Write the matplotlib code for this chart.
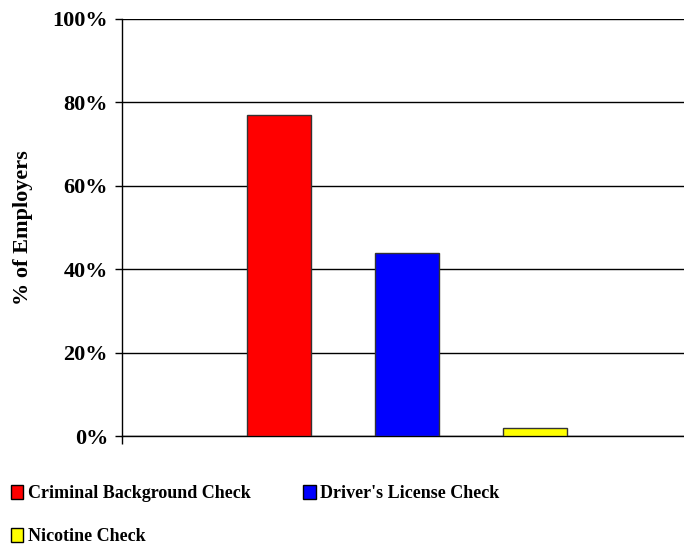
import matplotlib.pyplot as plt
from matplotlib.patches import Patch

checks = ["Criminal Background Check", "Driver's License Check", "Nicotine Check"]
pct = [77, 44, 2]
colors = ["#ff0000", "#0000ff", "#ffff00"]
yticks = [0, 20, 40, 60, 80, 100]

plt.rcParams['font.family'] = ['Liberation Serif', 'DejaVu Serif']
plt.rcParams['font.weight'] = 'bold'

fig = plt.figure(figsize=(6.84, 5.48), dpi=100)
ax = fig.add_axes([122 / 684, 112 / 548, 562 / 684, 417 / 548])

xs = range(len(checks))
ax.bar(xs, pct, width=0.5, color=colors, edgecolor='#333333', linewidth=1, zorder=3)

ax.set_xlim(-1.227, 3.164)
ax.set_ylim(0, 100)
ax.set_yticks(yticks)
ax.set_yticklabels([f"{v}%" for v in yticks], fontsize=16, fontweight='bold')
ax.yaxis.grid(True, color='black', linewidth=1, zorder=0)
ax.set_xticks([-1.227])
ax.set_xticklabels([])
ax.tick_params(axis='x', length=6, width=1, direction='out')
ax.tick_params(axis='y', length=5, width=1, direction='out', pad=5)
for s in ['top', 'right']:
    ax.spines[s].set_visible(False)
ax.spines['left'].set_linewidth(1)
ax.spines['bottom'].set_linewidth(1)
ax.set_ylabel("% of Employers", fontsize=16, fontweight='bold', labelpad=14)

# legend order: matplotlib fills columns first
order = [0, 2, 1]
handles = [Patch(facecolor=colors[i], edgecolor='black', linewidth=1) for i in order]
labels = [checks[i] for i in order]
fig.legend(handles, labels, ncol=2, loc='upper left', bbox_to_anchor=(0.0, 0.135),
           frameon=False, prop={'family': 'Liberation Serif', 'weight': 'bold', 'size': 13},
           handlelength=0.7, handleheight=0.85, handletextpad=0.25,
           labelspacing=1.4, columnspacing=2.9, borderaxespad=0.2)

fig.savefig("out.png", dpi=100)
